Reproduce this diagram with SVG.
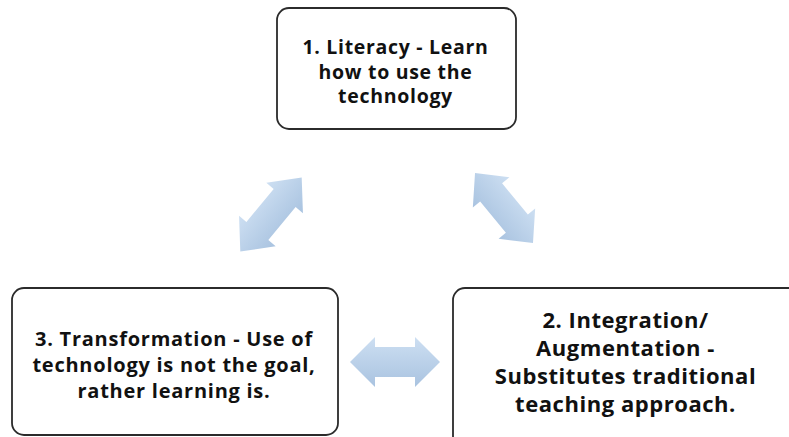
<svg xmlns="http://www.w3.org/2000/svg" width="789" height="437" viewBox="0 0 789 437">
<defs>
<style>
.box{fill:#ffffff;stroke:#2b2b2b;stroke-width:1.8}
.t{font-family:"Open Sans","Liberation Sans",sans-serif;font-weight:bold;fill:#111;text-anchor:middle}
.arr{fill:url(#g)}
</style>
<linearGradient id="g" x1="0" y1="0" x2="0" y2="1">
<stop offset="0" stop-color="#cddff2"/>
<stop offset="1" stop-color="#a9c3e0"/>
</linearGradient>
<path id="dbl" d="M-45,0 L-20,-25 L-20,-15 L20,-15 L20,-25 L45,0 L20,25 L20,15 L-20,15 L-20,25 Z"/>
</defs>
<rect width="789" height="437" fill="#ffffff"/>
<g id="connectors">
<use href="#dbl" class="arr" transform="translate(271,214.5) rotate(-50.4) scale(1.07,0.95)"/>
<use href="#dbl" class="arr" transform="translate(504,208) rotate(50.4) scale(1.01,0.95)"/>
<use href="#dbl" class="arr" transform="translate(395,362)"/>
</g>
<g id="node1">
<rect class="box" x="277" y="8" width="239" height="121" rx="12"/>
<text class="t" font-size="19.5" x="395.5" y="54" letter-spacing="0.7">1. Literacy - Learn</text>
<text class="t" font-size="19.5" x="395.5" y="78.5" letter-spacing="0.7">how to use the</text>
<text class="t" font-size="19.5" x="395.5" y="103" letter-spacing="0.7">technology</text>
</g>
<g id="node3">
<rect class="box" x="12" y="288" width="326" height="147" rx="12"/>
<text class="t" font-size="20" x="174" y="346" letter-spacing="0.75">3. Transformation - Use of</text>
<text class="t" font-size="20" x="174" y="372" letter-spacing="0.75">technology is not the goal,</text>
<text class="t" font-size="20" x="174" y="398" letter-spacing="0.75">rather learning is.</text>
</g>
<g id="node2">
<rect class="box" x="453" y="288" width="350" height="160" rx="12"/>
<text class="t" font-size="22" x="625.5" y="328" letter-spacing="0.55">2. Integration/</text>
<text class="t" font-size="22" x="625.5" y="356" letter-spacing="0.55">Augmentation -</text>
<text class="t" font-size="22" x="625.5" y="384" letter-spacing="0.55">Substitutes traditional</text>
<text class="t" font-size="22" x="625.5" y="412" letter-spacing="0.55">teaching approach.</text>
</g>
</svg>
